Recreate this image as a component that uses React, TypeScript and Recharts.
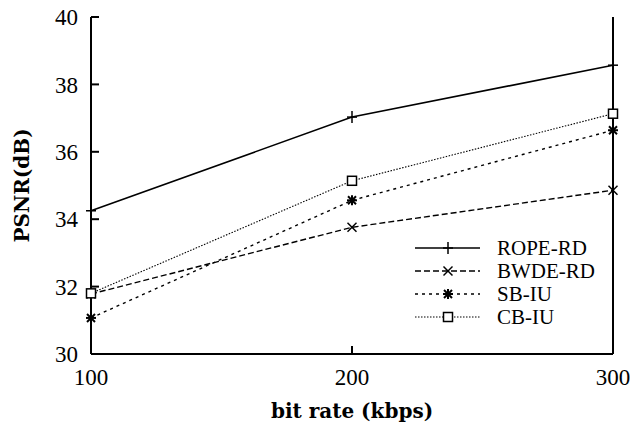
import React from 'react';
import { LineChart, Line, XAxis, YAxis, Legend } from 'recharts';

const BIT_RATES = [100, 200, 300];
const ROPE_RD = [34.25, 37.03, 38.57];
const BWDE_RD = [31.78, 33.76, 34.86];
const SB_IU = [31.07, 34.56, 36.64];
const CB_IU = [31.8, 35.14, 37.13];

const Y_TICKS = [30, 32, 34, 36, 38, 40];
const X_TICKS = [100, 200, 300];

const data = BIT_RATES.map((rate, i) => ({
  rate,
  rope: ROPE_RD[i],
  bwde: BWDE_RD[i],
  sb: SB_IU[i],
  cb: CB_IU[i],
}));

const INK = '#000';
const TICK_FONT = { fontFamily: 'Liberation Serif', fontSize: 23, fill: INK };
const TITLE_FONT = { fontFamily: 'DejaVu Serif', fontWeight: 'bold', fontSize: 20, fill: INK };

type Mark = 'plus' | 'cross' | 'star' | 'square';

const drawMark = (mark: Mark, cx: number, cy: number, key?: string) => {
  if (mark === 'plus') {
    return (
      <g key={key}>
        <line x1={cx - 5} y1={cy} x2={cx + 5} y2={cy} stroke={INK} strokeWidth={1.5} />
        <line x1={cx} y1={cy - 6} x2={cx} y2={cy + 6} stroke={INK} strokeWidth={1.5} />
      </g>
    );
  }
  if (mark === 'cross') {
    return (
      <g key={key}>
        <line x1={cx - 4.5} y1={cy - 4.5} x2={cx + 4.5} y2={cy + 4.5} stroke={INK} strokeWidth={1.5} />
        <line x1={cx - 4.5} y1={cy + 4.5} x2={cx + 4.5} y2={cy - 4.5} stroke={INK} strokeWidth={1.5} />
      </g>
    );
  }
  if (mark === 'star') {
    return (
      <g key={key}>
        <line x1={cx - 4} y1={cy - 4} x2={cx + 4} y2={cy + 4} stroke={INK} strokeWidth={2} />
        <line x1={cx - 4} y1={cy + 4} x2={cx + 4} y2={cy - 4} stroke={INK} strokeWidth={2} />
        <line x1={cx - 5} y1={cy} x2={cx + 5} y2={cy} stroke={INK} strokeWidth={2} />
        <line x1={cx} y1={cy - 5} x2={cx} y2={cy + 5} stroke={INK} strokeWidth={2} />
      </g>
    );
  }
  return (
    <rect key={key} x={cx - 4.5} y={cy - 4.5} width={9} height={9} fill="#fff" stroke={INK} strokeWidth={1.5} />
  );
};

const SERIES: { key: string; name: string; dash?: string; width: number; mark: Mark }[] = [
  { key: 'rope', name: 'ROPE-RD', width: 1.6, mark: 'plus' },
  { key: 'bwde', name: 'BWDE-RD', dash: '6 3', width: 1.4, mark: 'cross' },
  { key: 'sb', name: 'SB-IU', dash: '3 4', width: 1.4, mark: 'star' },
  { key: 'cb', name: 'CB-IU', dash: '1.5 1.5', width: 1.1, mark: 'square' },
];

const renderLegend = () => (
  <svg width={200} height={100}>
    {SERIES.map((s, i) => {
      const y = 12 + i * 23;
      return (
        <g key={s.key}>
          <line x1={5} y1={y} x2={70} y2={y} stroke={INK} strokeWidth={s.width} strokeDasharray={s.dash} />
          {drawMark(s.mark, 38, y)}
          <text x={87} y={y} dy="0.35em" fontFamily="Liberation Serif" fontSize={21} fill={INK}>
            {s.name}
          </text>
        </g>
      );
    })}
  </svg>
);

const emptyTick = () => <g />;

export default function App() {
  return (
    <div style={{ position: 'absolute', left: 0, top: 0, background: '#fff' }}>
      <LineChart width={633} height={426} data={data} margin={{ top: 17, right: 0, bottom: 0, left: 0 }}>
        <XAxis
          dataKey="rate"
          type="number"
          domain={[100, 300]}
          ticks={X_TICKS}
          height={72}
          stroke={INK}
          strokeWidth={2}
          tickSize={-8}
          tickMargin={23}
          tick={TICK_FONT}
          label={{ value: 'bit rate (kbps)', position: 'insideBottom', offset: 8, style: TITLE_FONT }}
        />
        <XAxis
          xAxisId="top"
          dataKey="rate"
          type="number"
          orientation="top"
          domain={[100, 300]}
          ticks={X_TICKS}
          height={0}
          stroke={INK}
          strokeWidth={2}
          tickSize={-8}
          tick={emptyTick}
        />
        <YAxis
          type="number"
          domain={[30, 40]}
          ticks={Y_TICKS}
          width={91}
          stroke={INK}
          strokeWidth={2}
          tickSize={-8}
          tickMargin={21}
          tick={TICK_FONT}
          label={{
            value: 'PSNR(dB)',
            angle: -90,
            position: 'insideLeft',
            offset: 22,
            style: { ...TITLE_FONT, textAnchor: 'middle' },
          }}
        />
        <YAxis
          yAxisId="right"
          orientation="right"
          type="number"
          domain={[30, 40]}
          ticks={Y_TICKS}
          width={20}
          stroke={INK}
          strokeWidth={2}
          tickSize={-8}
          tick={emptyTick}
        />
        <Legend
          content={renderLegend}
          layout="vertical"
          align="center"
          verticalAlign="middle"
          wrapperStyle={{ position: 'absolute', left: 410, top: 236, width: 200, height: 100 }}
        />
        {SERIES.map((s) => (
          <Line
            key={s.key}
            dataKey={s.key}
            name={s.name}
            type="linear"
            stroke={INK}
            strokeWidth={s.width}
            strokeDasharray={s.dash}
            dot={(p: any) => drawMark(s.mark, p.cx, p.cy, `${s.key}-${p.index}`)}
            activeDot={false}
            isAnimationActive={false}
          />
        ))}
      </LineChart>
    </div>
  );
}
